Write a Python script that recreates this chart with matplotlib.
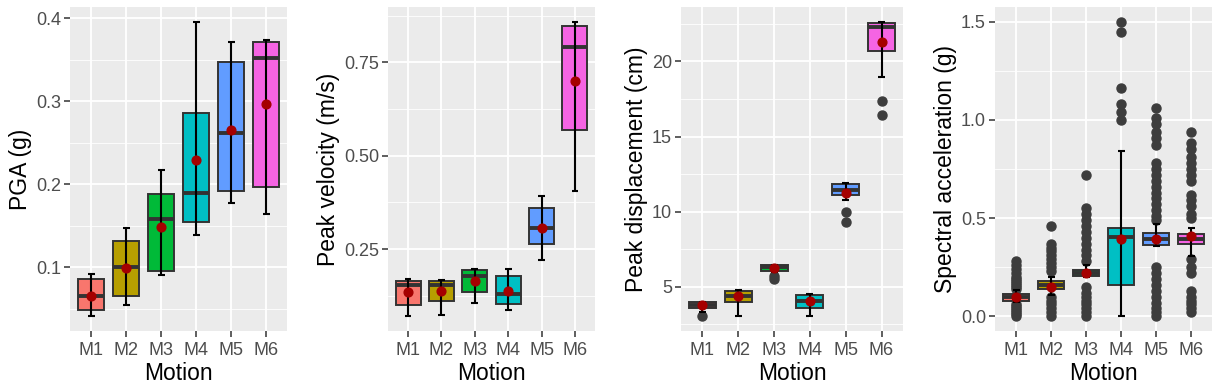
import matplotlib
matplotlib.use("Agg")
import matplotlib.pyplot as plt
from matplotlib.ticker import FixedLocator, FixedFormatter

plt.rcParams['font.family'] = ['Liberation Sans', 'DejaVu Sans']

motions = ['M1', 'M2', 'M3', 'M4', 'M5', 'M6']
fill_colors = ['#F8766D', '#B79F00', '#00BA38', '#00BFC4', '#619CFF', '#F564E3']

# ---- PGA (g)
pga_q1 = [0.049, 0.0655, 0.095, 0.155, 0.192, 0.197]
pga_med = [0.066, 0.100, 0.158, 0.190, 0.262, 0.352]
pga_q3 = [0.0855, 0.132, 0.188, 0.286, 0.348, 0.372]
pga_lo = [0.041, 0.054, 0.0905, 0.139, 0.177, 0.164]
pga_hi = [0.092, 0.147, 0.217, 0.396, 0.371, 0.374]
pga_mean = [0.066, 0.099, 0.148, 0.229, 0.266, 0.297]
pga_out = [[], [], [], [], [], []]

# ---- Peak velocity (m/s)
pgv_q1 = [0.099, 0.110, 0.136, 0.103, 0.264, 0.569]
pgv_med = [0.155, 0.153, 0.179, 0.131, 0.307, 0.792]
pgv_q3 = [0.164, 0.164, 0.193, 0.178, 0.359, 0.847]
pgv_lo = [0.070, 0.074, 0.106, 0.086, 0.220, 0.406]
pgv_hi = [0.170, 0.167, 0.197, 0.197, 0.393, 0.859]
pgv_mean = [0.134, 0.139, 0.165, 0.137, 0.307, 0.701]
pgv_out = [[], [], [], [], [], []]

# ---- Peak displacement (cm)
pgd_q1 = [3.58, 3.94, 6.07, 3.60, 11.12, 20.71]
pgd_med = [3.80, 4.38, 6.29, 4.02, 11.41, 22.31]
pgd_q3 = [3.96, 4.71, 6.45, 4.47, 11.86, 22.58]
pgd_lo = [3.30, 3.04, 6.00, 3.02, 10.74, 18.95]
pgd_hi = [3.96, 4.74, 6.45, 4.51, 11.90, 22.65]
pgd_mean = [3.76, 4.34, 6.23, 4.07, 11.26, 21.29]
pgd_out = [[3.07], [], [5.72, 5.49], [], [9.99, 9.27], [17.37, 16.42]]

# ---- Spectral acceleration (g)
sa_q1 = [0.080, 0.140, 0.205, 0.159, 0.361, 0.367]
sa_med = [0.097, 0.160, 0.222, 0.404, 0.395, 0.392]
sa_q3 = [0.111, 0.179, 0.234, 0.448, 0.423, 0.421]
sa_lo = [0.073, 0.109, 0.199, 0.003, 0.358, 0.307]
sa_hi = [0.133, 0.201, 0.261, 0.844, 0.469, 0.447]
sa_mean = [0.097, 0.150, 0.222, 0.392, 0.395, 0.409]
sa_out = [
    [0.28, 0.26, 0.24, 0.22, 0.20, 0.19, 0.18, 0.17, 0.16, 0.15, 0.14,
     0.06, 0.05, 0.04, 0.03, 0.02, 0.01, 0.0],
    [0.46, 0.37, 0.35, 0.33, 0.31, 0.29, 0.27, 0.25, 0.23,
     0.10, 0.08, 0.06, 0.04, 0.02, 0.0],
    [0.72, 0.55, 0.52, 0.49, 0.46, 0.43, 0.40, 0.37, 0.34, 0.31, 0.28,
     0.15, 0.12, 0.10, 0.08, 0.06, 0.04, 0.02, 0.0],
    [1.50, 1.45, 1.16, 1.08, 1.04, 1.00],
    [1.06, 1.01, 0.98, 0.94, 0.91, 0.87, 0.78, 0.75, 0.72, 0.69, 0.66, 0.63,
     0.60, 0.57, 0.54, 0.51, 0.49,
     0.25, 0.22, 0.19, 0.16, 0.13, 0.10, 0.07, 0.04, 0.02, 0.0],
    [0.94, 0.88, 0.85, 0.81, 0.78, 0.75, 0.72, 0.69, 0.62, 0.59, 0.56, 0.52, 0.50,
     0.29, 0.25, 0.22, 0.13, 0.10, 0.08, 0.06, 0.04, 0.02],
]

panels = [
    dict(q1=pga_q1, med=pga_med, q3=pga_q3, lo=pga_lo, hi=pga_hi, mean=pga_mean, out=pga_out,
         ylabel='PGA (g)', major=[0.1, 0.2, 0.3, 0.4], labels=['0.1', '0.2', '0.3', '0.4'],
         minor=[0.05, 0.15, 0.25, 0.35], px=(70, 287)),
    dict(q1=pgv_q1, med=pgv_med, q3=pgv_q3, lo=pgv_lo, hi=pgv_hi, mean=pgv_mean, out=pgv_out,
         ylabel='Peak velocity (m/s)', major=[0.25, 0.5, 0.75], labels=['0.25', '0.50', '0.75'],
         minor=[0.125, 0.375, 0.625, 0.875], px=(388, 595)),
    dict(q1=pgd_q1, med=pgd_med, q3=pgd_q3, lo=pgd_lo, hi=pgd_hi, mean=pgd_mean, out=pgd_out,
         ylabel='Peak displacement (cm)', major=[5, 10, 15, 20], labels=['5', '10', '15', '20'],
         minor=[2.5, 7.5, 12.5, 17.5, 22.5], px=(681, 903)),
    dict(q1=sa_q1, med=sa_med, q3=sa_q3, lo=sa_lo, hi=sa_hi, mean=sa_mean, out=sa_out,
         ylabel='Spectral acceleration (g)', major=[0.0, 0.5, 1.0, 1.5], labels=['0.0', '0.5', '1.0', '1.5'],
         minor=[0.25, 0.75, 1.25], px=(995, 1212)),
]

W, H = 1216, 390
fig = plt.figure(figsize=(W / 100, H / 100), dpi=100)

edge = '#333333'
for p in panels:
    x0, x1 = p['px']
    top, bot = 7, 331
    ax = fig.add_axes([x0 / W, (H - bot) / H, (x1 - x0) / W, (bot - top) / H])
    ax.set_facecolor('#EBEBEB')
    positions = list(range(1, len(motions) + 1))
    stats = []
    for i in range(len(motions)):
        stats.append(dict(q1=p['q1'][i], med=p['med'][i], q3=p['q3'][i],
                          whislo=p['q1'][i], whishi=p['q3'][i], fliers=p['out'][i],
                          mean=p['mean'][i]))
    bp = ax.bxp(stats, positions=positions, widths=0.75, patch_artist=True,
                showcaps=False, showfliers=True, showmeans=False,
                boxprops=dict(edgecolor=edge, linewidth=1.4),
                medianprops=dict(color=edge, linewidth=2.8),
                whiskerprops=dict(linewidth=0),
                flierprops=dict(marker='o', markerfacecolor='#3d3d3d', markeredgecolor='#3d3d3d',
                                markersize=6.5, linestyle='none'),
                zorder=3)
    for patch, c in zip(bp['boxes'], fill_colors):
        patch.set_facecolor(c)
    # error bars (whiskers drawn through box)
    ax.vlines(positions, p['lo'], p['hi'], color='black', linewidth=1.5, zorder=5)
    for xp, lo, hi in zip(positions, p['lo'], p['hi']):
        ax.hlines([lo, hi], xp - 0.1, xp + 0.1, color='black', linewidth=1.5, zorder=5)
    ax.plot(positions, p['mean'], 'o', color='#A50000', markersize=6.3, linestyle='none', zorder=6)

    ax.set_xlim(0.4, 6.6)
    ax.margins(y=0.05)
    ax.set_xticks(positions)
    ax.set_xticklabels(motions)
    ax.yaxis.set_major_locator(FixedLocator(p['major']))
    ax.yaxis.set_major_formatter(FixedFormatter(p['labels']))
    ax.yaxis.set_minor_locator(FixedLocator(p['minor']))
    ax.grid(True, which='major', color='white', linewidth=1.3, zorder=0)
    ax.grid(True, which='minor', axis='y', color='white', linewidth=0.6, zorder=0)
    ax.set_axisbelow(True)
    for s in ax.spines.values():
        s.set_visible(False)
    ax.tick_params(axis='both', which='major', length=4, width=1.1, color='#333333',
                   labelcolor='#4D4D4D', labelsize=13, pad=2.5)
    ax.tick_params(axis='x', which='major', pad=4)
    ax.tick_params(axis='y', which='minor', length=0)
    ax.set_xlabel('Motion', fontsize=16.5, color='black', labelpad=2)
    ax.set_ylabel(p['ylabel'], fontsize=16.5, color='black', labelpad=3)

fig.savefig('out.png', dpi=100)
